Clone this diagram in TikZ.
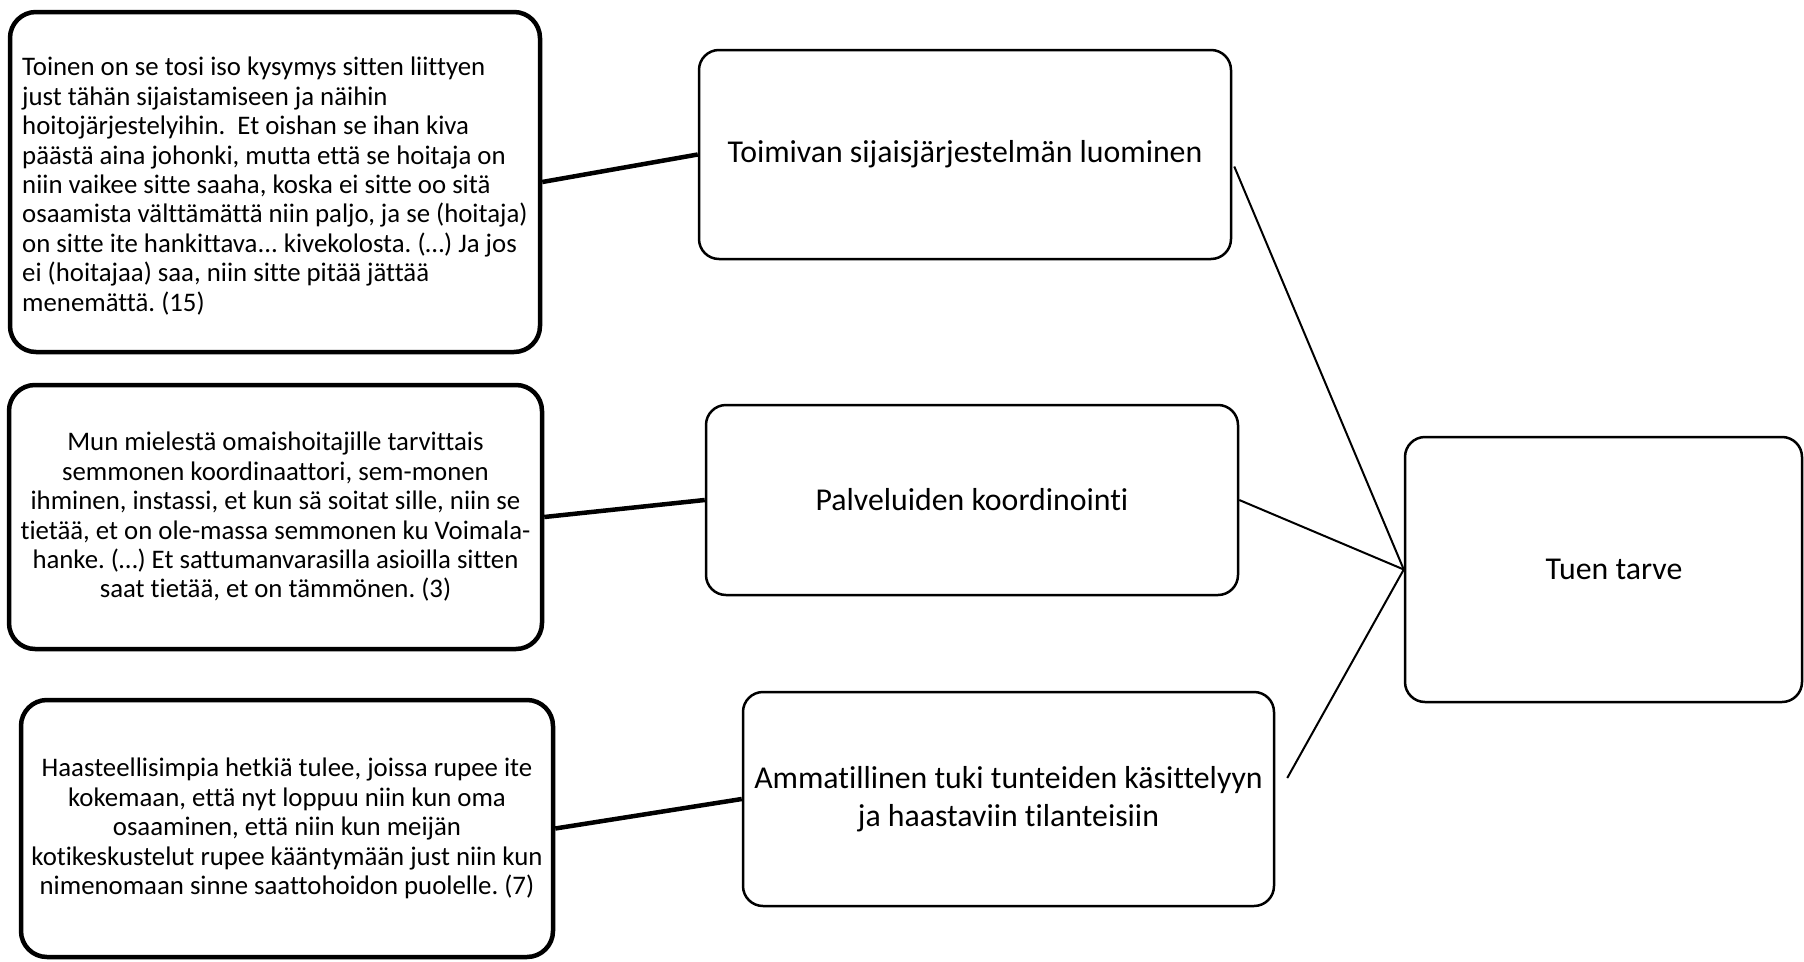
\documentclass[tikz,border=0pt]{standalone}
\usepackage{fontspec}
\setmainfont{Carlito}[Ligatures={NoCommon}]
\usetikzlibrary{calc}
\frenchspacing
\begin{document}
\begin{tikzpicture}[x=1pt,y=-1pt,
  qbox/.style={draw=black, line width=4.5pt, rounded corners=26pt, inner sep=0pt, align=center,
    font=\fontsize{26.8}{29.4}\selectfont},
  qtext/.style={inner sep=0pt, align=left, font=\fontsize{26.8}{29.4}\selectfont},
  cbox/.style={draw=black, line width=2.5pt, rounded corners=20pt, inner sep=0pt, align=center,
    font=\fontsize{31.8}{37.5}\selectfont},
  ctext/.style={inner sep=0pt, font=\fontsize{31.8}{37.5}\selectfont},
  thicklink/.style={line width=4.5pt},
  thinlink/.style={line width=2pt}]
\fill[white] (0,0) rectangle (1804,961);
\useasboundingbox (0,0) rectangle (1804,961);

% quote boxes
\node[qbox, minimum width=530pt, minimum height=340pt] (q1) at (275,182) {};
\node[qtext, anchor=west] (q1t) at (22,186) {Toinen on se tosi iso kysymys sitten liittyen\\just tähän sijaistamiseen ja näihin\\hoitojärjestelyihin.~ Et oishan se ihan kiva\\päästä aina johonki, mutta että se hoitaja on\\niin vaikee sitte saaha, koska ei sitte oo sitä\\osaamista välttämättä niin paljo, ja se (hoitaja)\\on sitte ite hankittava... kivekolosta. (…) Ja jos\\ei (hoitajaa) saa, niin sitte pitää jättää\\menemättä. (15)};

\node[qbox, minimum width=533pt, minimum height=264pt] (q2) at (275.5,517) {Mun mielestä omaishoitajille tarvittais\\semmonen koordinaattori, sem-monen\\ihminen, instassi, et kun sä soitat sille, niin se\\tietää, et on ole-massa semmonen ku Voimala-\\hanke. (…) Et sattumanvarasilla asioilla sitten\\saat tietää, et on tämmönen. (3)};

\node[qbox, minimum width=532pt, minimum height=257pt] (q3) at (287,828.5) {Haasteellisimpia hetkiä tulee, joissa rupee ite\\kokemaan, että nyt loppuu niin kun oma\\osaaminen, että niin kun meijän\\kotikeskustelut rupee kääntymään just niin kun\\nimenomaan sinne saattohoidon puolelle. (7)};

% category boxes
\node[cbox, minimum width=532pt, minimum height=209pt] (A) at (965,154.5) {Toimivan sijaisjärjestelmän luominen};
\node[cbox, minimum width=532pt, minimum height=190pt] (B) at (972,500) {Palveluiden koordinointi};
\node[cbox, minimum width=531pt, minimum height=214pt] (C) at (1008.5,799) {Ammatillinen tuki tunteiden käsittelyyn\\ja haastaviin tilanteisiin};

% main box
\node[cbox, minimum width=397pt, minimum height=265pt] (D) at (1603.5,569.5) {};
\node[ctext] (Dt) at (1614,569.5) {Tuen tarve};

% connectors
\draw[thicklink] (q1.east) -- (A.west);
\draw[thicklink] (q2.east) -- (B.west);
\draw[thicklink] (q3.east) -- (C.west);

\coordinate (a1) at ($(A.east)+(2,12)$);
\coordinate (c1) at ($(C.east)+(12,-21)$);
\draw[thinlink] (a1) -- (D.west);
\draw[thinlink] (B.east) -- (D.west);
\draw[thinlink] (c1) -- (D.west);
\end{tikzpicture}
\end{document}
